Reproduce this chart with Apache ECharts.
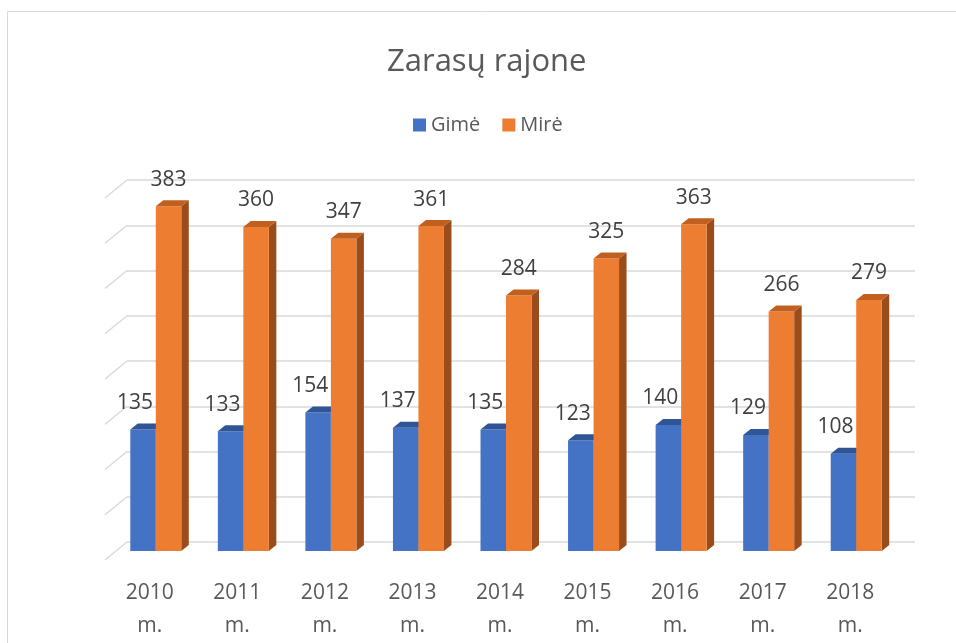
<!DOCTYPE html>
<html>
<head>
<meta charset="utf-8">
<script src="https://cdn.jsdelivr.net/npm/echarts@6/dist/echarts.min.js"></script>
<style>
  html, body { margin: 0; padding: 0; background: #fff; }
  #main { width: 956px; height: 643px; }
</style>
</head>
<body>
<div id="main"></div>
<script>
// data
var years = ['2010 m.', '2011 m.', '2012 m.', '2013 m.', '2014 m.', '2015 m.', '2016 m.', '2017 m.', '2018 m.'];
var gime = [135, 133, 154, 137, 135, 123, 140, 129, 108];
var mire = [383, 360, 347, 361, 284, 325, 363, 266, 279];
var gridTicks = [0, 50, 100, 150, 200, 250, 300, 350, 400];

var FONT = '"Open Sans", "Noto Sans", sans-serif';
var BAR_W = 25.5;
var DEPTH_X = 7.5, DEPTH_Y = -6;

// 3d looking column: front, top and right side
function bar3d(front, top, side, shift, labelShift) {
    return function (params, api) {
        var p = api.coord([api.value(0), api.value(1)]);
        var base = api.coord([api.value(0), 0]);
        var x0 = p[0] + shift, x1 = x0 + BAR_W;
        var yt = p[1], yb = base[1];
        return {
            type: 'group',
            children: [{
                type: 'polygon',
                shape: { points: [[x1, yb], [x1 + DEPTH_X, yb + DEPTH_Y], [x1 + DEPTH_X, yt + DEPTH_Y], [x1, yt]] },
                style: { fill: side }
            }, {
                type: 'rect',
                shape: { x: x0, y: yt, width: BAR_W, height: yb - yt },
                style: { fill: front }
            }, {
                type: 'polygon',
                shape: { points: [[x0, yt], [x1, yt], [x1 + DEPTH_X, yt + DEPTH_Y], [x0 + DEPTH_X, yt + DEPTH_Y]] },
                style: { fill: top }
            }, {
                type: 'text',
                x: x0 + BAR_W / 2 + labelShift,
                y: yt - 16,
                style: {
                    text: String(api.value(1)),
                    fill: '#404040',
                    font: '21px ' + FONT,
                    align: 'center',
                    verticalAlign: 'bottom'
                }
            }]
        };
    };
}

// slanted side wall pieces of the gridlines
function sideWall(params, api) {
    var p = api.coord([0, api.value(0)]);
    var x = params.coordSys.x;
    return {
        type: 'line',
        shape: { x1: x, y1: p[1], x2: x - 22, y2: p[1] + 18 },
        style: { stroke: '#D9D9D9', lineWidth: 1.5 }
    };
}

var chart = echarts.init(document.getElementById('main'));

chart.setOption({
    backgroundColor: '#fff',
    animation: false,
    graphic: [{
        type: 'rect',
        shape: { x: 7.5, y: 11.5, width: 1000, height: 700 },
        style: { fill: 'none', stroke: '#D9D9D9', lineWidth: 1 },
        silent: true
    }],
    title: {
        text: 'Zarasų rajone',
        left: 382,
        top: 42,
        textStyle: { fontFamily: FONT, fontSize: 31, fontWeight: 'normal', color: '#595959' }
    },
    legend: {
        top: 110,
        left: 408,
        icon: 'rect',
        itemWidth: 13,
        itemHeight: 13,
        itemGap: 22,
        textStyle: { fontFamily: FONT, fontSize: 20, color: '#595959' },
        data: ['Gimė', 'Mirė']
    },
    grid: [
        { left: 112, right: 56, top: 191, bottom: 90 },   // bars
        { left: 127, right: 41, top: 180, bottom: 101 }   // back wall
    ],
    xAxis: [{
        type: 'category',
        gridIndex: 0,
        data: years,
        axisLine: { show: false },
        axisTick: { show: false },
        axisLabel: {
            margin: 26,
            fontFamily: FONT,
            fontSize: 21,
            lineHeight: 33,
            color: '#595959',
            padding: [0, 12, 0, 0],
            formatter: function (v) { return v.replace(' ', '\n'); }
        }
    }, {
        type: 'value',
        gridIndex: 1,
        min: 0,
        max: 1,
        show: false
    }],
    yAxis: [{
        type: 'value',
        gridIndex: 0,
        min: 0,
        max: 400,
        show: false
    }, {
        type: 'value',
        gridIndex: 1,
        min: 0,
        max: 400,
        interval: 50,
        axisLine: { show: false },
        axisTick: { show: false },
        axisLabel: { show: false },
        splitLine: { lineStyle: { color: '#D9D9D9', width: 1.5 } }
    }],
    series: [{
        name: 'wall',
        type: 'custom',
        xAxisIndex: 1,
        yAxisIndex: 1,
        silent: true,
        renderItem: sideWall,
        data: gridTicks.map(function (v) { return [v]; }),
        encode: { y: 0 }
    }, {
        name: 'Gimė',
        type: 'custom',
        xAxisIndex: 0,
        yAxisIndex: 0,
        itemStyle: { color: '#4472C4' },
        renderItem: bar3d('#4472C4', '#2F5597', '#2F5597', -BAR_W, -8),
        data: gime.map(function (v, i) { return [i, v]; }),
        encode: { x: 0, y: 1 }
    }, {
        name: 'Mirė',
        type: 'custom',
        xAxisIndex: 0,
        yAxisIndex: 0,
        itemStyle: { color: '#ED7D31' },
        renderItem: bar3d('#ED7D31', '#C05F1E', '#9A4C1A', 0, 0),
        data: mire.map(function (v, i) { return [i, v]; }),
        encode: { x: 0, y: 1 }
    }]
});
</script>
</body>
</html>
